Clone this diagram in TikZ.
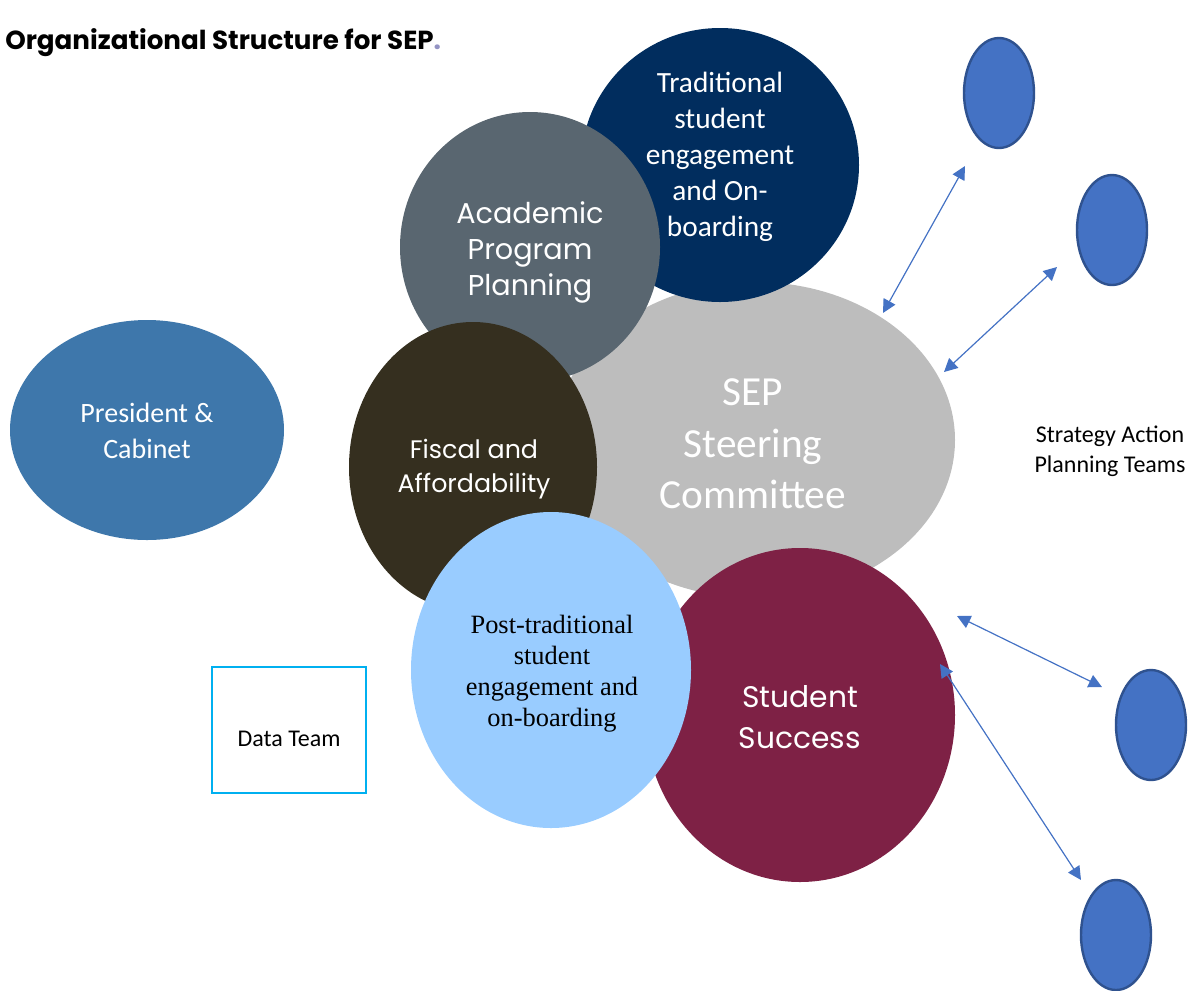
\documentclass[tikz,border=0pt]{standalone}
\usepackage{fontspec}
\usepackage{xcolor}
\usepackage{tikz}
\usetikzlibrary{calc,shapes.geometric,arrows.meta}
\setmainfont{Carlito}
\newfontfamily\gothic{Poppins}
\newfontfamily\serifface{Liberation Serif}
\definecolor{presblue}{HTML}{3E77AB}
\definecolor{navy}{HTML}{012D5E}
\definecolor{slate}{HTML}{596670}
\definecolor{steer}{HTML}{BDBDBD}
\definecolor{fiscal}{HTML}{352F1F}
\definecolor{sky}{HTML}{99CCFF}
\definecolor{maroon}{HTML}{7E2145}
\definecolor{teamfill}{HTML}{4472C4}
\definecolor{teamedge}{HTML}{2F528F}
\definecolor{datacyan}{HTML}{00B0F0}
\definecolor{dotpurple}{HTML}{9494C4}
\tikzset{
  blob/.style 2 args={ellipse, inner sep=0pt, draw=none,
    minimum width=#1*1.5pt, minimum height=#2*1.5pt},
  team/.style={ellipse, inner sep=0pt, fill=teamfill, draw=teamedge,
    line width=1.8pt, minimum width=52.5pt, minimum height=82.5pt},
  link/.style={draw=teamfill, line width=0.9pt,
    {Triangle[length=10pt,width=10pt]}-{Triangle[length=10pt,width=10pt]}},
  wtxt/.style={text=white, align=center, inner sep=0pt},
  btxt/.style={text=black, align=center, inner sep=0pt},
}

\begin{document}
\begin{tikzpicture}[x=0.75pt, y=-0.75pt]
  \useasboundingbox (0,0) rectangle (1193,990);

  % title
  \node[anchor=west, inner sep=0pt, font=\gothic\bfseries\fontsize{19.6}{22}\selectfont] (title)
    at (5,43) {Organizational Structure for SEP\textcolor{dotpurple}{.}};

  % president
  \node[blob={137}{110}, fill=presblue] (pres) at (147,430) {};
  \node[wtxt, font=\fontsize{21}{27}\selectfont] at (147,431) {President \&\\Cabinet};

  % central cluster
  \node[blob={200}{158}, fill=steer] (sep) at (755,440) {};
  \node[blob={139}{137}, fill=navy] (trad) at (720,165) {};
  \node[blob={130}{135}, fill=slate] (acad) at (530,247) {};
  \node[blob={124}{145}, fill=fiscal] (fisc) at (473,467) {};
  \node[blob={155}{167}, fill=maroon] (succ) at (800,715) {};
  \node[blob={140}{158}, fill=sky] (post) at (551,670) {};

  \node[wtxt, font=\fontsize{22}{27}\selectfont] at (720,157)
    {Traditional\\student\\engagement\\and On-\\boarding};
  \node[wtxt, font=\gothic\fontsize{21.5}{27}\selectfont] at (530,252)
    {Academic\\Program\\Planning};
  \node[wtxt, font=\fontsize{31}{38.5}\selectfont] at (753,444)
    {SEP\\Steering\\Committee};
  \node[wtxt, font=\gothic\fontsize{19}{25}\selectfont] at (474,469)
    {Fiscal and\\Affordability};
  \node[btxt, font=\serifface\fontsize{19.8}{23.2}\selectfont] at (552,674)
    {Post-traditional\\student\\engagement and\\on-boarding};
  \node[wtxt, font=\gothic\fontsize{22.3}{31}\selectfont] at (800,717)
    {Student\\Success};

  % action planning teams
  \node[team] (t1) at (999,93) {};
  \node[team] (t2) at (1112,230) {};
  \node[team] (t3) at (1151,725) {};
  \node[team] (t4) at (1116,935) {};
  \node[btxt, font=\fontsize{18}{22.5}\selectfont] (sapt) at (1110,451)
    {Strategy Action\\Planning Teams};

  \coordinate (l1a) at (883,313);  \coordinate (l1b) at (965,166);
  \coordinate (l2a) at (944,372);  \coordinate (l2b) at (1057,267);
  \coordinate (l3a) at (957,616);  \coordinate (l3b) at (1102,687);
  \coordinate (l4a) at (940,664);  \coordinate (l4b) at (1081,880);
  \draw[link] (l1a) -- (l1b);
  \draw[link] (l2a) -- (l2b);
  \draw[link] (l3a) -- (l3b);
  \draw[link] (l4a) -- (l4b);

  % data team
  \node[draw=datacyan, line width=1.5pt, minimum width=115pt, minimum height=94pt,
    inner sep=0pt] (data) at (289,730) {};
  \node[btxt, font=\fontsize{18}{21}\selectfont] (datalbl) at (289,739) {Data Team};
\end{tikzpicture}
\end{document}
